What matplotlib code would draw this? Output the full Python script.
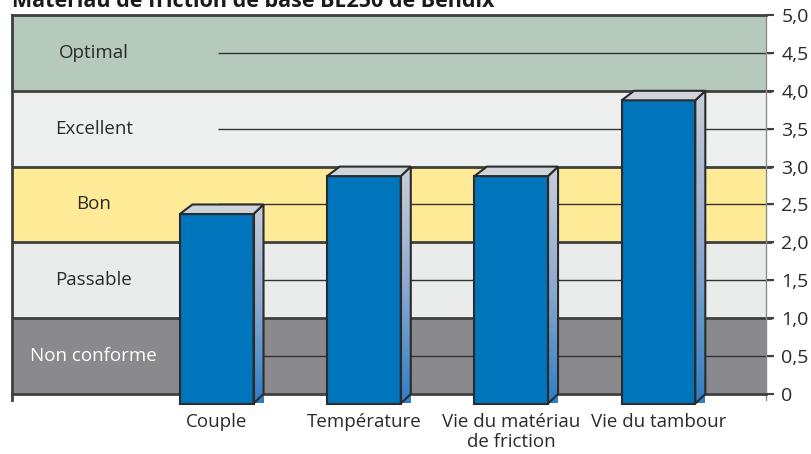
import numpy as np
import matplotlib
matplotlib.use('Agg')
from matplotlib import pyplot as plt
from matplotlib.patches import Polygon, Rectangle
from matplotlib.ticker import FixedLocator, FixedFormatter
from matplotlib.transforms import blended_transform_factory

plt.rcParams['font.family'] = ['Open Sans', 'DejaVu Sans']

########
# DATA #
########

title = 'Matériau de friction de base BE250 de Bendix'
categories = ['Couple', 'Température', 'Vie du matériau\nde friction', 'Vie du tambour']
values = [2.5, 3.0, 3.0, 4.0]

band_names = ['Non conforme', 'Passable', 'Bon', 'Excellent', 'Optimal']
band_edges = [0, 1, 2, 3, 4, 5]
band_colors = ['#8a8a8e', '#e9eceb', '#ffea98', '#eef0ef', '#b5c9bc']
band_text_colors = ['white', '#2a2a2a', '#2a2a2a', '#2a2a2a', '#2a2a2a']

yticks = [0, 0.5, 1, 1.5, 2, 2.5, 3, 3.5, 4, 4.5, 5]
yticklabels = ['0', '0,5', '1,0', '1,5', '2,0', '2,5', '3,0', '3,5', '4,0', '4,5', '5,0']

########
# PLOT #
########

W, H = 811, 454
fig = plt.figure(figsize=(W / 100, H / 100), dpi=100)
ax = fig.add_axes([12 / W, (H - 394) / H, (766 - 12) / W, 379 / H])

x = np.arange(len(categories))
ax.set_xlim(-1.39, 3.73)
ax.set_ylim(0, 5)

px_x = (766 - 12) / (3.73 + 1.39)   # pixels per x unit
px_y = 379 / 5.                     # pixels per y unit
bw = 0.50
dx = 10 / px_x
dy = 9.5 / px_y
edge = '#2b2b2b'

# bands
for i in range(len(band_names)):
    ax.axhspan(band_edges[i], band_edges[i + 1], color=band_colors[i], zorder=0, lw=0)
    ax.text(-0.835, (band_edges[i] + band_edges[i + 1]) / 2, band_names[i],
            ha='center', va='center', fontsize=13.5, color=band_text_colors[i])

# half-step lines from the first bar onwards
for yv in [0.5, 1.5, 2.5, 3.5, 4.5]:
    ax.plot([0.01, 3.73 + 6 / px_x], [yv, yv], color='#333333', lw=1.0,
            zorder=1, clip_on=False, solid_capstyle='butt')
# band boundaries
for yv in [1, 2, 3, 4]:
    ax.plot([-1.39, 3.73 + 6 / px_x], [yv, yv], color='#404040', lw=2.0,
            zorder=1, clip_on=False, solid_capstyle='butt')

# gradient for the side faces
grad = np.linspace(0, 1, 256).reshape(-1, 1)
side_cmap = matplotlib.colors.LinearSegmentedColormap.from_list(
    'side', ['#2d7fc5', '#8fa9cf', '#c9ced8'])

for xi, v in zip(x, values):
    l, r = xi - bw / 2, xi + bw / 2
    # front face
    ax.add_patch(Rectangle((l, -dy), bw, v, facecolor='#0075bb', edgecolor=edge,
                           lw=1.5, zorder=5, clip_on=False))
    # side face
    side = Polygon([(r, -dy), (r + dx, 0), (r + dx, v), (r, v - dy)], closed=True,
                   facecolor='none', edgecolor=edge, lw=1.5, zorder=6, clip_on=False)
    ax.add_patch(side)
    im = ax.imshow(grad, cmap=side_cmap, aspect='auto', origin='lower',
                   extent=[r, r + dx, -dy, v], zorder=4, clip_on=False)
    im.set_clip_path(side)
    # top face
    ax.add_patch(Polygon([(l, v - dy), (l + dx * 1.25, v), (r + dx, v), (r, v - dy)],
                         closed=True, facecolor='#cfd3da', edgecolor=edge, lw=1.5,
                         zorder=6, clip_on=False))

# frame
for s in ['top', 'left', 'bottom']:
    ax.spines[s].set_color('#404040')
    ax.spines[s].set_linewidth(2.0)
ax.spines['right'].set_color('#8c8c8c')
ax.spines['right'].set_linewidth(1.0)
ax.spines['left'].set_bounds(-6 / px_y, 5)
ax.spines['right'].set_bounds(-6 / px_y, 5)

ax.yaxis.tick_right()
ax.yaxis.set_major_locator(FixedLocator(yticks))
ax.yaxis.set_major_formatter(FixedFormatter(yticklabels))
ax.tick_params(axis='y', direction='out', length=6, width=1.5, color='#404040',
               labelsize=14, labelcolor='#2a2a2a', pad=5)
ax.set_xticks([])

# category labels under the bars
trans = blended_transform_factory(ax.transData, ax.transAxes)
for xi, lab in zip(x, categories):
    ax.text(xi, -(413 - 394) / 379, lab, transform=trans, ha='center', va='top',
            fontsize=13.5, color='#2a2a2a', linespacing=1.15)

fig.text(12 / W, 1 - 7 / H, title, ha='left', va='baseline', fontsize=15.5,
         fontweight='bold', color='#1a1a1a')

fig.savefig('out.png', dpi=100)
plt.close()
